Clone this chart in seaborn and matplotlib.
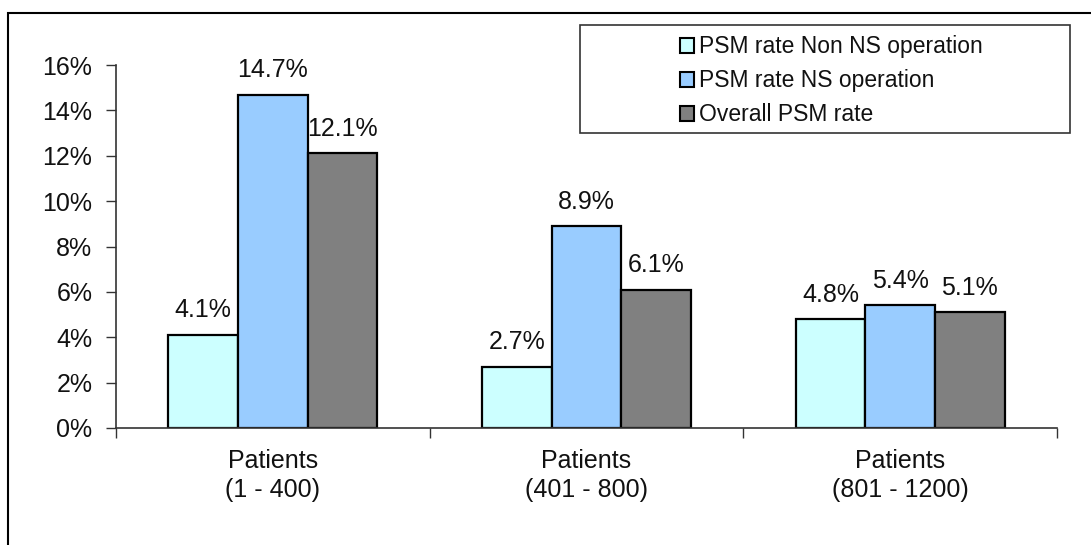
import matplotlib
matplotlib.use("Agg")
import matplotlib.pyplot as plt
from matplotlib.patches import Rectangle
import seaborn as sns
import pandas as pd

groups = ["Patients\n(1 - 400)", "Patients\n(401 - 800)", "Patients\n(801 - 1200)"]
series = ["PSM rate Non NS operation", "PSM rate NS operation", "Overall PSM rate"]
non_ns = [4.1, 2.7, 4.8]
ns = [14.7, 8.9, 5.4]
overall = [12.1, 6.1, 5.1]
y_ticks = [0, 2, 4, 6, 8, 10, 12, 14, 16]

colors = ["#CCFFFF", "#99CCFF", "#808080"]

rows = []
for name, vals in zip(series, [non_ns, ns, overall]):
    for g, v in zip(groups, vals):
        rows.append({"group": g, "series": name, "value": v})
df = pd.DataFrame(rows)

sns.set_theme(style="white")
plt.rcParams["font.family"] = ["Liberation Sans", "DejaVu Sans"]

FS = 18

fig = plt.figure(figsize=(10.91, 5.45), dpi=100)
ax = fig.add_axes([0.1063, 0.2147, 0.8625, 0.666])

sns.barplot(data=df, x="group", y="value", hue="series", order=groups,
            hue_order=series, palette=colors, width=0.667, gap=0,
            edgecolor="black", linewidth=1.6, saturation=1, ax=ax,
            legend=False)

for cont in ax.containers:
    ax.bar_label(cont, labels=[f"{v:.1f}%" for v in cont.datavalues],
                 padding=9, fontsize=FS, color="#111111")

ax.set_xlim(-0.5, 2.5)
ax.set_ylim(0, 16)
ax.set_yticks(y_ticks)
ax.set_yticklabels([f"{t}%" for t in y_ticks], fontsize=FS, color="#111111")
ax.set_xticks([-0.5, 0.5, 1.5, 2.5])
ax.set_xticklabels([])
ax.set_xticks([0, 1, 2], minor=True)
ax.set_xticklabels(groups, minor=True, fontsize=FS, linespacing=1.25,
                   color="#111111")
ax.tick_params(axis="x", which="minor", length=0, pad=15)
ax.tick_params(axis="x", which="major", direction="out", length=7,
               width=1, color="#333333", bottom=True)
ax.tick_params(axis="y", direction="out", length=7, width=1,
               color="#333333", left=True, pad=10)
ax.set_xlabel("")
ax.set_ylabel("")
for side in ["top", "right"]:
    ax.spines[side].set_visible(False)
for side in ["left", "bottom"]:
    ax.spines[side].set_color("#333333")
    ax.spines[side].set_linewidth(1.2)

# Legend box and entries
fig.patches.append(Rectangle((580 / 1091, 1 - 133 / 545), 490 / 1091, 108 / 545,
                             transform=fig.transFigure, facecolor="white",
                             edgecolor="#333333", linewidth=1.2, zorder=5))
handles = [Rectangle((0, 0), 1, 1, facecolor=c, edgecolor="black", linewidth=1.5)
           for c in colors]
leg = fig.legend(handles, series, loc="upper left",
                 bbox_to_anchor=(662 / 1091, 1 - 17 / 545), frameon=False,
                 fontsize=16.5, handlelength=0.6, handleheight=0.6,
                 handletextpad=0.2, labelspacing=0.48, borderpad=0.3)
for t in leg.get_texts():
    t.set_color("#111111")
leg.set_zorder(6)

# Outer chart frame
fig.patches.append(Rectangle((8 / 1091, -0.2), 1.5, 1.2 - 13 / 545,
                             transform=fig.transFigure, facecolor="none",
                             edgecolor="black", linewidth=1.5, zorder=0))

fig.savefig("out.png", dpi=100, facecolor="white")
